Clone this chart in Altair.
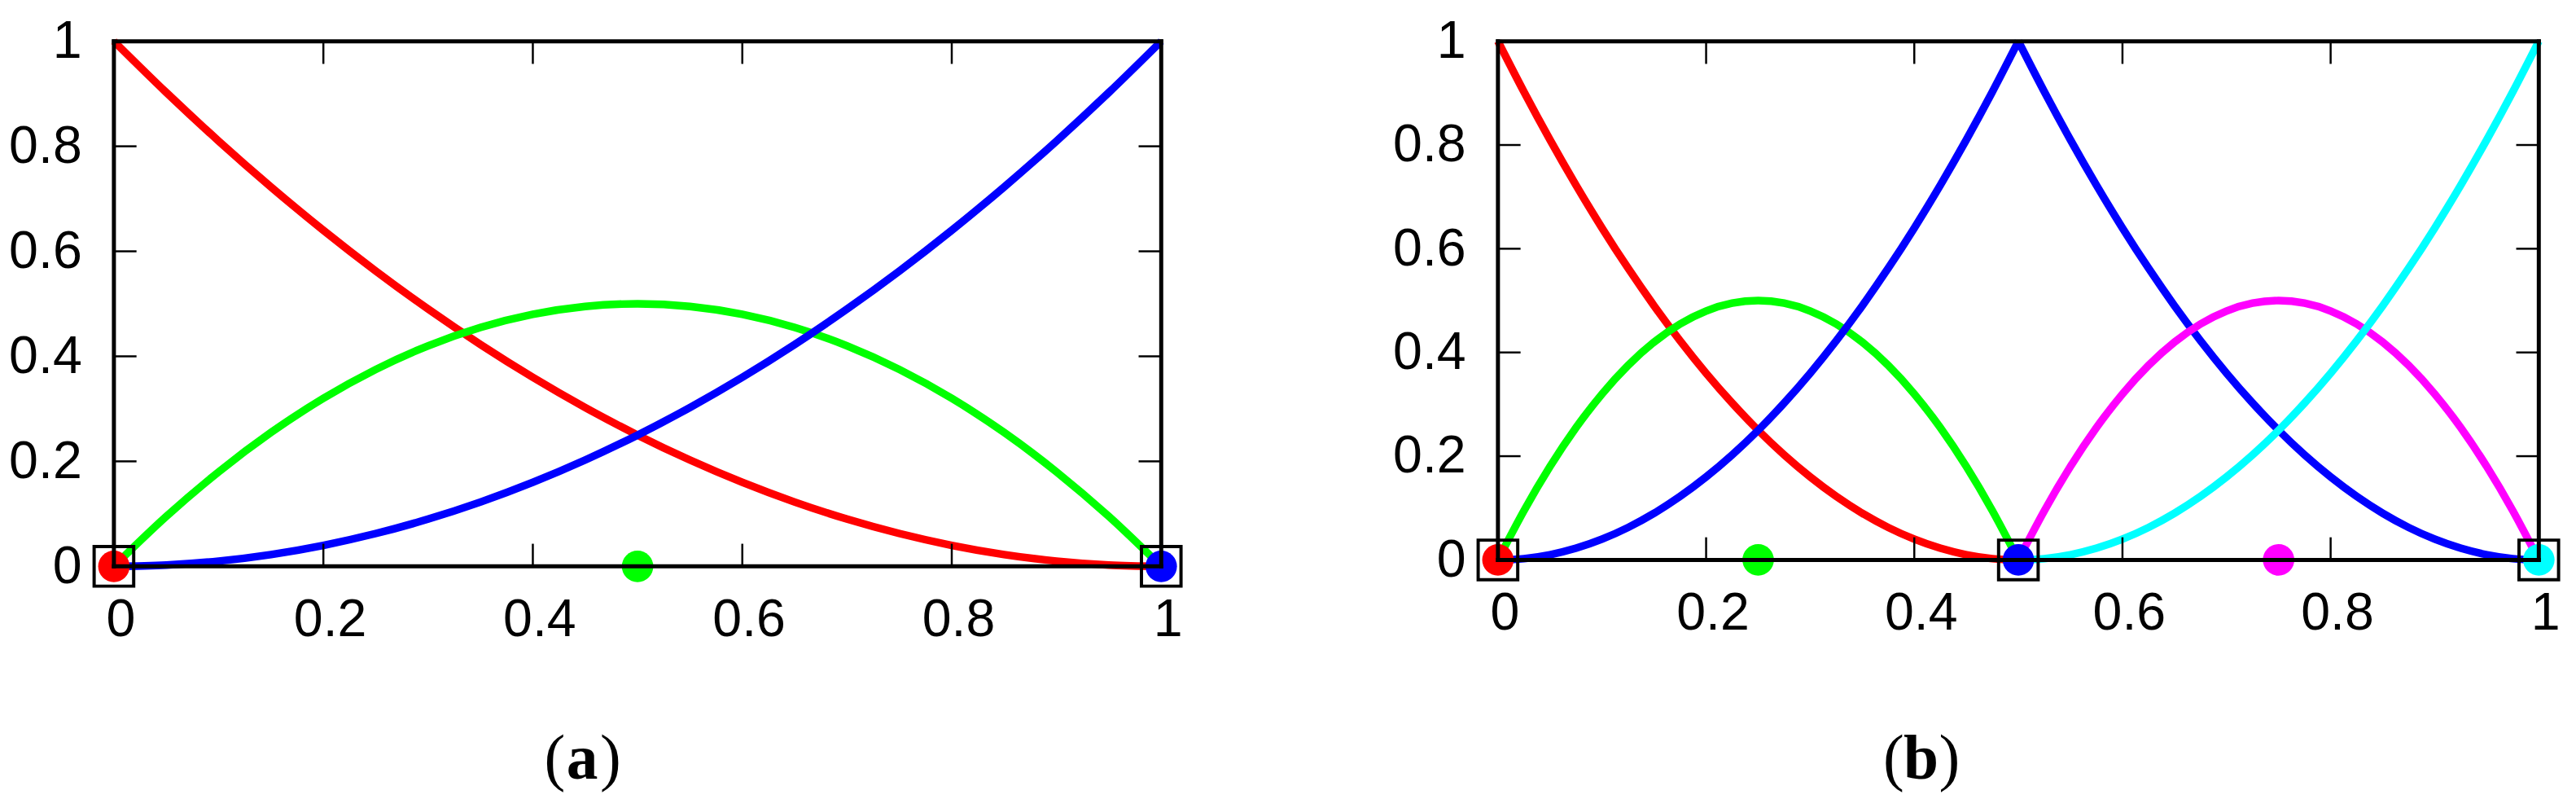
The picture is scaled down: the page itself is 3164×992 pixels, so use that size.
import altair as alt
import pandas as pd

# ---------------- data ----------------
tick_values = [0, 0.2, 0.4, 0.6, 0.8, 1]
inner_ticks = [0.2, 0.4, 0.6, 0.8]

# panel (a)
ta = [0, 0.05, 0.1, 0.15, 0.2, 0.25, 0.3, 0.35, 0.4, 0.45, 0.5,
      0.55, 0.6, 0.65, 0.7, 0.75, 0.8, 0.85, 0.9, 0.95, 1]
a_red = [1, 0.9025, 0.81, 0.7225, 0.64, 0.5625, 0.49, 0.4225, 0.36, 0.3025, 0.25,
         0.2025, 0.16, 0.1225, 0.09, 0.0625, 0.04, 0.0225, 0.01, 0.0025, 0]
a_green = [0, 0.095, 0.18, 0.255, 0.32, 0.375, 0.42, 0.455, 0.48, 0.495, 0.5,
           0.495, 0.48, 0.455, 0.42, 0.375, 0.32, 0.255, 0.18, 0.095, 0]
a_blue = [0, 0.0025, 0.01, 0.0225, 0.04, 0.0625, 0.09, 0.1225, 0.16, 0.2025, 0.25,
          0.3025, 0.36, 0.4225, 0.49, 0.5625, 0.64, 0.7225, 0.81, 0.9025, 1]
a_pts_x = [0, 0.5, 1]
a_pts_c = ["red", "green", "blue"]
a_sq_x = [0, 1]

# panel (b)
tb_left = [0, 0.025, 0.05, 0.075, 0.1, 0.125, 0.15, 0.175, 0.2, 0.225, 0.25,
           0.275, 0.3, 0.325, 0.35, 0.375, 0.4, 0.425, 0.45, 0.475, 0.5]
tb_right = [0.5, 0.525, 0.55, 0.575, 0.6, 0.625, 0.65, 0.675, 0.7, 0.725, 0.75,
            0.775, 0.8, 0.825, 0.85, 0.875, 0.9, 0.925, 0.95, 0.975, 1]
b_red = [1, 0.9025, 0.81, 0.7225, 0.64, 0.5625, 0.49, 0.4225, 0.36, 0.3025, 0.25,
         0.2025, 0.16, 0.1225, 0.09, 0.0625, 0.04, 0.0225, 0.01, 0.0025, 0]
b_green = [0, 0.095, 0.18, 0.255, 0.32, 0.375, 0.42, 0.455, 0.48, 0.495, 0.5,
           0.495, 0.48, 0.455, 0.42, 0.375, 0.32, 0.255, 0.18, 0.095, 0]
b_blue_left = [0, 0.0025, 0.01, 0.0225, 0.04, 0.0625, 0.09, 0.1225, 0.16, 0.2025, 0.25,
               0.3025, 0.36, 0.4225, 0.49, 0.5625, 0.64, 0.7225, 0.81, 0.9025, 1]
b_blue_right = [1, 0.9025, 0.81, 0.7225, 0.64, 0.5625, 0.49, 0.4225, 0.36, 0.3025, 0.25,
                0.2025, 0.16, 0.1225, 0.09, 0.0625, 0.04, 0.0225, 0.01, 0.0025, 0]
b_magenta = [0, 0.095, 0.18, 0.255, 0.32, 0.375, 0.42, 0.455, 0.48, 0.495, 0.5,
             0.495, 0.48, 0.455, 0.42, 0.375, 0.32, 0.255, 0.18, 0.095, 0]
b_cyan = [0, 0.0025, 0.01, 0.0225, 0.04, 0.0625, 0.09, 0.1225, 0.16, 0.2025, 0.25,
          0.3025, 0.36, 0.4225, 0.49, 0.5625, 0.64, 0.7225, 0.81, 0.9025, 1]
b_pts_x = [0, 0.25, 0.5, 0.75, 1]
b_pts_c = ["red", "green", "blue", "magenta", "cyan"]
b_sq_x = [0, 0.5, 1]

series_names = ["red", "green", "blue", "magenta", "cyan"]
series_colors = ["#ff0000", "#00ff00", "#0000ff", "#ff00ff", "#00ffff"]

# ---------------- tables ----------------
def line_table(parts):
    rows = []
    for seg, (series, xs, ys) in enumerate(parts):
        for x, y in zip(xs, ys):
            rows.append({"x": x, "y": y, "series": series, "seg": seg})
    return pd.DataFrame(rows)

lines_a = line_table([("red", ta, a_red), ("green", ta, a_green), ("blue", ta, a_blue)])
lines_b = line_table([("red", tb_left, b_red), ("green", tb_left, b_green),
                      ("blue", tb_left, b_blue_left), ("blue", tb_right, b_blue_right),
                      ("magenta", tb_right, b_magenta), ("cyan", tb_right, b_cyan)])

pts_a = pd.DataFrame({"x": a_pts_x, "y": [0] * len(a_pts_x), "series": a_pts_c})
pts_b = pd.DataFrame({"x": b_pts_x, "y": [0] * len(b_pts_x), "series": b_pts_c})
sq_a = pd.DataFrame({"x": a_sq_x, "y": [0] * len(a_sq_x)})
sq_b = pd.DataFrame({"x": b_sq_x, "y": [0] * len(b_sq_x)})
frame_df = pd.DataFrame({"x": [0, 0, 0, 1], "x2": [1, 1, 0, 1],
                         "y": [0, 1, 0, 0], "y2": [0, 1, 1, 1]})
ticks_df = pd.DataFrame({"x": inner_ticks, "y": inner_ticks})

color_scale = alt.Scale(domain=series_names, range=series_colors)

FONT = "Liberation Sans"
TICK_LEN = 28


def panel(lines_df, pts_df, sq_df, W, H, letter, cx):
    xs = alt.Scale(domain=[0, 1], nice=False, zero=False)
    ys = alt.Scale(domain=[0, 1], nice=False, zero=False)
    xax = alt.Axis(values=tick_values, format="~g", title=None, ticks=False, tickSize=0,
                   domain=False, grid=False, labelPadding=35, labelOffset=8,
                   labelFlush=False, labelOverlap=False, labelBound=False,
                   labelFont=FONT, labelFontSize=65, labelColor="black")
    yax = alt.Axis(values=tick_values, format="~g", title=None, ticks=False, tickSize=0,
                   domain=False, grid=False, labelPadding=40,
                   labelFlush=False, labelOverlap=False, labelBound=False,
                   labelFont=FONT, labelFontSize=65, labelColor="black")
    X = alt.X("x:Q", scale=xs, axis=xax)
    Y = alt.Y("y:Q", scale=ys, axis=yax)

    lines = alt.Chart(lines_df).mark_line(strokeWidth=9.5, interpolate="monotone", clip=False).encode(
        x=X, y=Y,
        color=alt.Color("series:N", scale=color_scale, legend=None),
        detail="seg:N",
    )
    circles = alt.Chart(pts_df).mark_circle(size=1520, opacity=1).encode(
        x=X, y=Y,
        color=alt.Color("series:N", scale=color_scale, legend=None),
    )
    squares = alt.Chart(sq_df).mark_point(shape="square", size=2400, filled=False,
                                          stroke="black", strokeWidth=4, opacity=1).encode(
        x=X, y=Y,
    )
    frame = alt.Chart(frame_df).mark_rule(color="black", strokeWidth=5, strokeCap="square").encode(
        x=X, x2="x2:Q", y=Y, y2="y2:Q",
    )
    tb = alt.Chart(ticks_df).mark_rule(color="black", strokeWidth=2.5).encode(
        x=X, y=alt.value(H), y2=alt.value(H - TICK_LEN))
    tt = alt.Chart(ticks_df).mark_rule(color="black", strokeWidth=2.5).encode(
        x=X, y=alt.value(0), y2=alt.value(TICK_LEN))
    tl = alt.Chart(ticks_df).mark_rule(color="black", strokeWidth=2.5).encode(
        y=Y, x=alt.value(0), x2=alt.value(TICK_LEN))
    tr = alt.Chart(ticks_df).mark_rule(color="black", strokeWidth=2.5).encode(
        y=Y, x=alt.value(W), x2=alt.value(W - TICK_LEN))

    lab = pd.DataFrame({"t": [letter], "l": ["("], "r": [")"]})
    base_y = 913
    t_letter = alt.Chart(lab).mark_text(font="Liberation Serif", fontSize=78, fontWeight="bold",
                                        align="center", baseline="alphabetic", color="black").encode(
        x=alt.value(cx), y=alt.value(base_y), text="t:N")
    t_l = alt.Chart(lab).mark_text(font="Liberation Serif", fontSize=78,
                                   align="right", baseline="alphabetic", color="black").encode(
        x=alt.value(cx - 21), y=alt.value(base_y), text="l:N")
    t_r = alt.Chart(lab).mark_text(font="Liberation Serif", fontSize=78,
                                   align="left", baseline="alphabetic", color="black").encode(
        x=alt.value(cx + 22), y=alt.value(base_y), text="r:N")

    return alt.layer(lines, circles, squares, frame, tb, tt, tl, tr, t_l, t_letter, t_r).properties(
        width=W, height=H)


pa = panel(lines_a, pts_a, sq_a, 1297, 650, "a", 580)
pb = panel(lines_b, pts_b, sq_b, 1289, 642, "b", 524)

chart = alt.hconcat(pa, pb, spacing=253).properties(
    padding={"left": 2, "top": 6, "right": 5, "bottom": 5}
).configure_view(stroke=None).configure(background="white")

chart.save("out.html", embed_options={"renderer": "svg", "actions": False})
